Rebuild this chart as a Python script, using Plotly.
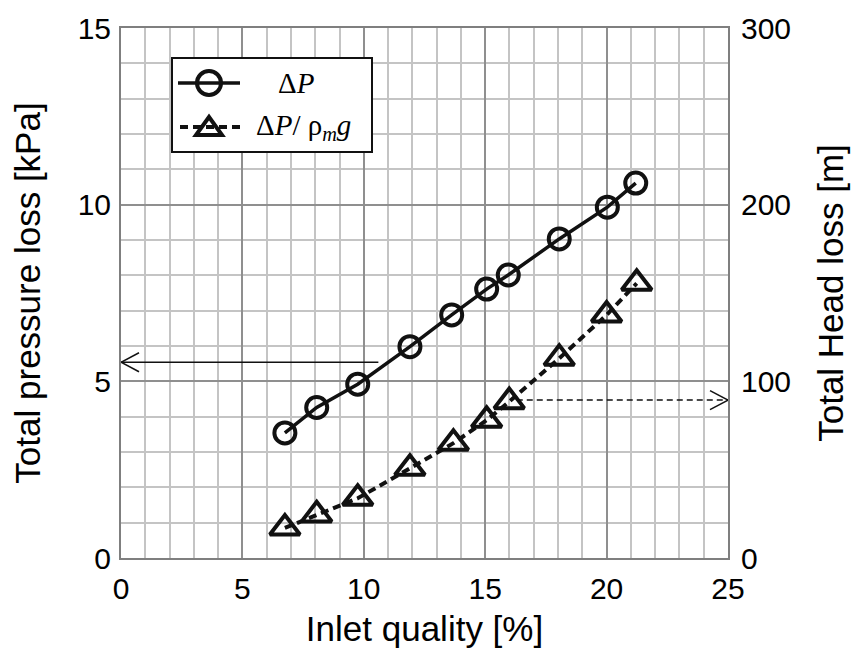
import plotly.graph_objects as go

# Data
quality = [6.75, 8.06, 9.75, 11.9, 13.62, 15.06, 15.95, 18.05, 20.03, 21.2]
pressure_loss_kpa = [3.54, 4.26, 4.92, 5.98, 6.88, 7.61, 8.01, 9.03, 9.93, 10.61]
quality_head = [6.75, 8.06, 9.75, 11.9, 13.69, 15.06, 15.99, 18.05, 20.0, 21.24]
head_loss_m = [17, 24.4, 33.8, 50.8, 65, 78, 88.5, 113, 137.6, 155.5]

x_ticks = [0, 5, 10, 15, 20, 25]
y_ticks = [0, 5, 10, 15]
y2_ticks = [0, 100, 200, 300]

series_names = ["Δ<i>P</i>", "Δ<i>P</i>/ ρ<sub><i>m</i></sub><i>g</i>"]

# Annotation arrows (data coordinates)
left_arrow = dict(x_start=10.6, x_end=0.0, y=5.54)
right_arrow = dict(x_start=16.3, x_end=25.0, y=4.47)

INK = "#111111"
MAJOR = "#8f8f8f"
MINOR = "#c4c4c4"

W, H = 857, 655
ML, MR, MT, MB = 121, 129, 28, 97
PW, PH = W - ML - MR, H - MT - MB


def px(xp):
    return (xp - ML) / PW


def py(yp):
    return (H - MB - yp) / PH


fig = go.Figure()

fig.add_trace(go.Scatter(
    x=quality, y=pressure_loss_kpa, mode="lines+markers",
    name=series_names[0], showlegend=False,
    line=dict(color=INK, width=3.5),
    marker=dict(symbol="circle-open", size=21, color=INK, line=dict(width=4)),
    yaxis="y",
))
fig.add_trace(go.Scatter(
    x=quality_head, y=head_loss_m, mode="lines+markers",
    name=series_names[1], showlegend=False,
    line=dict(color=INK, width=4, dash="8px,5px"),
    marker=dict(symbol="triangle-up-open", size=26, color=INK, line=dict(width=4)),
    yaxis="y2",
))

shapes = []
# left solid arrow
shapes.append(dict(type="line", xref="x", yref="y", x0=left_arrow["x_start"], x1=left_arrow["x_end"],
                   y0=left_arrow["y"], y1=left_arrow["y"], line=dict(color=INK, width=1.5)))
ax_dx = 18 / 24.28
ax_dy = 9.5 / 35.33
for s in (1, -1):
    shapes.append(dict(type="line", xref="x", yref="y", x0=left_arrow["x_end"], x1=left_arrow["x_end"] + ax_dx,
                       y0=left_arrow["y"], y1=left_arrow["y"] + s * ax_dy, line=dict(color=INK, width=1.5)))
# right dashed arrow
shapes.append(dict(type="line", xref="x", yref="y", x0=right_arrow["x_start"], x1=right_arrow["x_end"],
                   y0=right_arrow["y"], y1=right_arrow["y"], line=dict(color=INK, width=1.5, dash="6px,4px")))
for s in (1, -1):
    shapes.append(dict(type="line", xref="x", yref="y", x0=right_arrow["x_end"], x1=right_arrow["x_end"] - ax_dx,
                       y0=right_arrow["y"], y1=right_arrow["y"] + s * ax_dy, line=dict(color=INK, width=1.5)))

# custom legend (pixel layout converted to paper coords)
shapes.append(dict(type="rect", xref="paper", yref="paper", x0=px(172), x1=px(372), y0=py(152), y1=py(58),
                   fillcolor="white", line=dict(color=INK, width=2)))
row1, row2 = 83, 127
shapes.append(dict(type="line", xref="paper", yref="paper", x0=px(178), x1=px(240), y0=py(row1), y1=py(row1),
                   line=dict(color=INK, width=3.5)))
shapes.append(dict(type="circle", xref="paper", yref="paper", x0=px(209 - 12), x1=px(209 + 12),
                   y0=py(row1 + 12), y1=py(row1 - 12), fillcolor="rgba(0,0,0,0)", line=dict(color=INK, width=4)))
shapes.append(dict(type="line", xref="paper", yref="paper", x0=px(180), x1=px(240), y0=py(row2), y1=py(row2),
                   line=dict(color=INK, width=4, dash="8px,5px")))
tri = "M {:.4f} {:.4f} L {:.4f} {:.4f} L {:.4f} {:.4f} Z".format(
    px(209 - 13), py(row2 + 8), px(209 + 13), py(row2 + 8), px(209), py(row2 - 10))
shapes.append(dict(type="path", xref="paper", yref="paper", path=tri,
                   fillcolor="rgba(0,0,0,0)", line=dict(color=INK, width=4)))

legend_font = dict(family="Liberation Serif, Times New Roman", size=29, color="#000000")
annotations = [
    dict(xref="paper", yref="paper", x=px(296), y=py(row1), text=series_names[0], showarrow=False,
         xanchor="center", yanchor="middle", font=legend_font),
    dict(xref="paper", yref="paper", x=px(254), y=py(row2), text=series_names[1], showarrow=False,
         xanchor="left", yanchor="middle", font=legend_font),
]

tickfont = dict(family="Liberation Sans, Arial", size=30, color="#000000")
titlefont = dict(family="Liberation Sans, Arial", size=35, color="#000000")

fig.update_layout(
    width=W, height=H,
    margin=dict(l=ML, r=MR, t=MT, b=MB),
    plot_bgcolor="white", paper_bgcolor="white",
    showlegend=False,
    xaxis=dict(
        range=[0, 25], tickvals=x_ticks, ticktext=[str(v) for v in x_ticks],
        showgrid=True, gridcolor=MAJOR, gridwidth=2,
        minor=dict(dtick=1, showgrid=True, gridcolor=MINOR, gridwidth=2),
        showline=True, linecolor="#7f7f7f", linewidth=2, mirror=True,
        zeroline=False, ticks="", tickfont=tickfont, ticklabelstandoff=3,
        title=dict(text="Inlet quality [%]", font=titlefont, standoff=12),
    ),
    yaxis=dict(
        range=[0, 15], tickvals=y_ticks, ticktext=[str(v) for v in y_ticks],
        showgrid=True, gridcolor=MAJOR, gridwidth=2,
        minor=dict(dtick=1, showgrid=True, gridcolor=MINOR, gridwidth=2),
        showline=True, linecolor="#7f7f7f", linewidth=2, mirror=True,
        zeroline=False, ticks="", tickfont=tickfont, ticklabelstandoff=2,
        title=dict(text="Total pressure loss [kPa]", font=titlefont, standoff=26),
    ),
    yaxis2=dict(
        range=[0, 300], tickvals=y2_ticks, ticktext=[str(v) for v in y2_ticks],
        overlaying="y", side="right", showgrid=False, zeroline=False,
        showline=False, ticks="", tickfont=tickfont, ticklabelstandoff=12,
        title=dict(text="Total Head loss [m]", font=titlefont, standoff=28),
    ),
    shapes=shapes,
    annotations=annotations,
)

fig.write_html("out.html")
